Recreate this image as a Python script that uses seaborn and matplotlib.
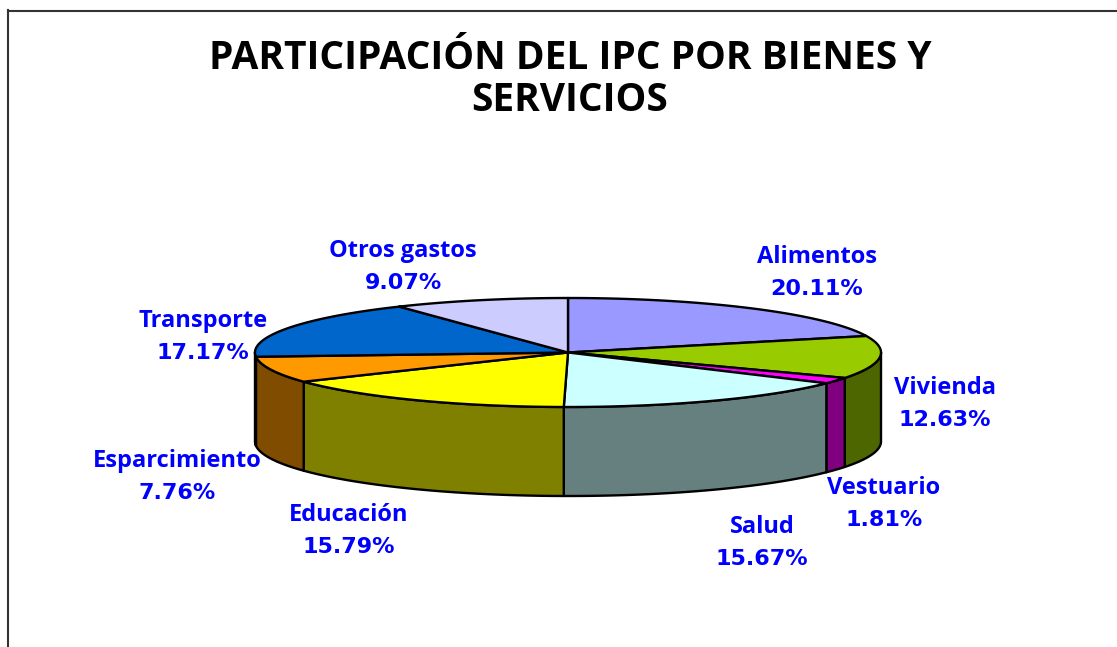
import numpy as np
import matplotlib
matplotlib.use("Agg")
import matplotlib.pyplot as plt
import seaborn as sns

categories = ["Alimentos", "Vivienda", "Vestuario", "Salud", "Educación",
              "Esparcimiento", "Transporte", "Otros gastos"]
shares = [20.11, 12.63, 1.81, 15.67, 15.79, 7.76, 17.17, 9.07]
title_text = "PARTICIPACIÓN DEL IPC POR BIENES Y\nSERVICIOS"

slice_colors = ["#9999FF", "#99CC00", "#FF00FF", "#CCFFFF", "#FFFF00",
                "#FF9900", "#0066CC", "#CCCCFF"]
label_centers = [(817, 273), (945, 404), (884, 504), (762, 543),
                 (349, 531), (177, 477), (203, 337), (403, 267)]

sns.set_theme(style="white")
plt.rcParams["font.family"] = ["Open Sans", "DejaVu Sans"]
palette = sns.color_palette(slice_colors)

W, H = 1117, 647
L, T = 7.5, 10.5
fig = plt.figure(figsize=(W / 100, H / 100), dpi=100, facecolor="white")
ax = fig.add_axes([L / W, 0, 1 - L / W, 1 - T / H])
ax.set_xlim(L, W)
ax.set_ylim(H, T)
ax.set_xticks([])
ax.set_yticks([])
for side in ("right", "bottom"):
    ax.spines[side].set_visible(False)
for side in ("left", "top"):
    ax.spines[side].set_color("#333333")
    ax.spines[side].set_linewidth(1.5)

cx, cy, rx, ry, depth = 568, 352.5, 313, 54.5, 89


def rim(t):
    t = np.radians(t)
    return cx + rx * np.sin(t), cy - ry * np.cos(t)


edges = np.concatenate([[0], np.cumsum(shares)]) / np.sum(shares) * 360
lw = 1.7

# side walls (only the front half of the disc is visible)
for start, end, col in zip(edges[:-1], edges[1:], palette):
    a, b = max(start, 90), min(end, 270)
    if b <= a:
        continue
    x, y = rim(np.linspace(a, b, 80))
    dark = tuple(c * 0.5 for c in col)
    ax.fill(np.r_[x, x[::-1]], np.r_[y, y[::-1] + depth], facecolor=dark,
            edgecolor="black", linewidth=lw, joinstyle="round")

# top faces
for start, end, col in zip(edges[:-1], edges[1:], palette):
    x, y = rim(np.linspace(start, end, 120))
    ax.fill(np.r_[cx, x], np.r_[cy, y], facecolor=col,
            edgecolor="black", linewidth=lw, joinstyle="round")

# labels: name and share on two lines
for name, val, (lx, ly) in zip(categories, shares, label_centers):
    ax.text(lx, ly - 16, name, color="#0000FF", fontsize=17,
            fontweight="bold", ha="center", va="center")
    ax.text(lx, ly + 16, f"{val:.2f}%", color="#0000FF", fontsize=16,
            family="DejaVu Sans", fontweight="bold", ha="center", va="center")

ax.text(570, 79.5, title_text, color="black", fontsize=28, fontweight="bold",
        ha="center", va="center", linespacing=1.1)

fig.savefig("out.png", dpi=100, facecolor="white")
